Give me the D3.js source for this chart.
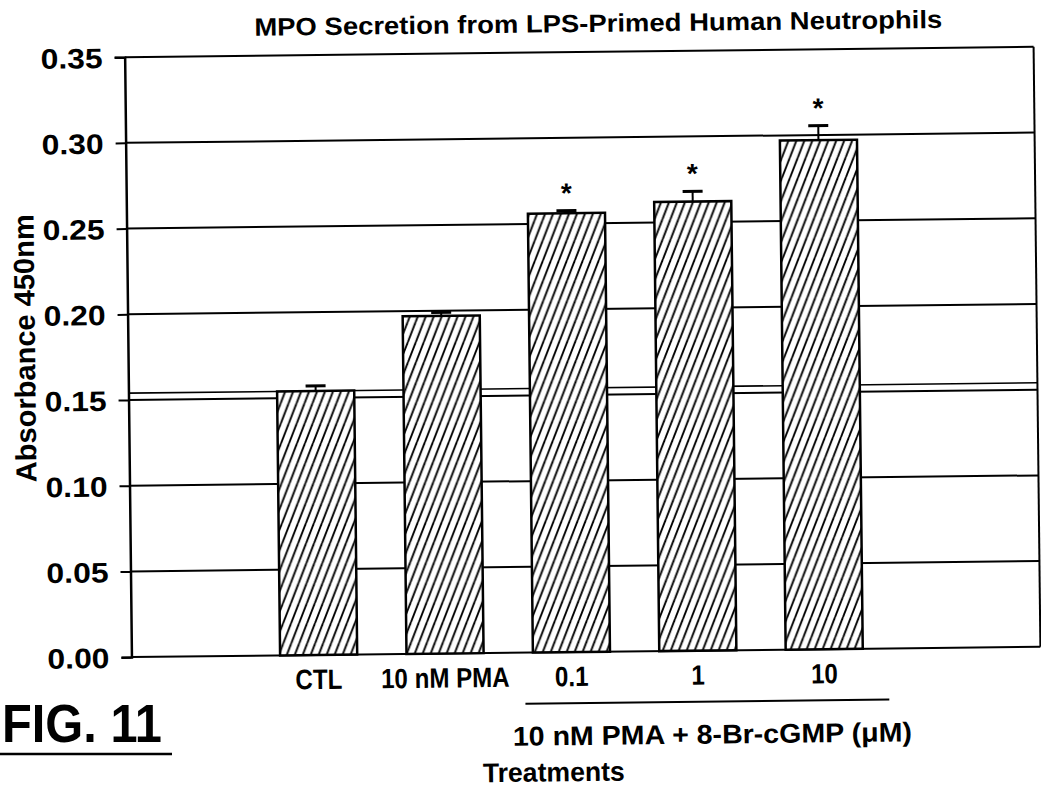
<!DOCTYPE html>
<html>
<head>
<meta charset="utf-8">
<script src="https://cdn.jsdelivr.net/npm/d3@7"></script>
<style>
  body { margin: 0; background: #fff; }
  svg { display: block; }
  text { font-family: "Liberation Sans", Arial, sans-serif; font-weight: bold; fill: #000; }
</style>
</head>
<body>
<svg id="chart" width="1041" height="792"></svg>
<script>
var categories = ["CTL", "10 nM PMA", "0.1", "1", "10"];
var means = [0.154, 0.197, 0.256, 0.262, 0.297];
var errors = [0.003, 0.002, 0.0015, 0.006, 0.0085];
var significant = [false, false, true, true, true];
var yTicks = [0, 0.05, 0.10, 0.15, 0.20, 0.25, 0.30, 0.35];

var title = "MPO Secretion from LPS-Primed Human Neutrophils";
var yLabel = "Absorbance 450nm";
var groupLabel = "10 nM PMA + 8-Br-cGMP (\u03bcM)";
var xLabel = "Treatments";
var figLabel = "FIG. 11";

var left = 128, right = 1037;
var labelSqueeze = 0.86; // the scan font is a bit condensed

var svg = d3.select('#chart');

// hatch fill for the bars
var defs = svg.append('defs');
var hatch = defs.append('pattern')
    .attr('id', 'hatch')
    .attr('patternUnits', 'userSpaceOnUse')
    .attr('width', 8)
    .attr('height', 20);
hatch.append('rect').attr('width', 8).attr('height', 20).attr('fill', '#fff');
[-8, 0, 8].forEach(function (dx) {
    hatch.append('line')
        .attr('x1', dx).attr('y1', 20)
        .attr('x2', dx + 8).attr('y2', 0)
        .attr('stroke', '#000')
        .attr('stroke-width', 1.9);
});

// the scanned figure is a bit skewed
var g = svg.append('g')
    .attr('transform', 'rotate(-0.65, 580, 350)');

var yScale = d3.scaleLinear()
    .domain([0, 0.35])
    .range([652, 52]);

var xScale = d3.scaleBand()
    .domain(categories)
    .range([252, 884])
    .paddingInner(0.39)
    .paddingOuter(0.195);

// grid lines
g.selectAll('.grid').data(yTicks).enter().append('line')
    .attr('class', 'grid')
    .attr('x1', left).attr('x2', right)
    .attr('y1', function (d) { return yScale(d); })
    .attr('y2', function (d) { return yScale(d); })
    .attr('stroke', '#000')
    .attr('stroke-width', 2);

// control level line
g.append('line')
    .attr('x1', left).attr('x2', right)
    .attr('y1', yScale(means[0]))
    .attr('y2', yScale(means[0]))
    .attr('stroke', '#000')
    .attr('stroke-width', 1.6);

// right border
g.append('line')
    .attr('x1', right).attr('x2', right)
    .attr('y1', yScale(0)).attr('y2', yScale(0.35))
    .attr('stroke', '#000')
    .attr('stroke-width', 2);

var yAxis = d3.axisLeft()
    .scale(yScale)
    .tickValues(yTicks)
    .tickFormat(d3.format('.2f'))
    .tickSize(10)
    .tickPadding(12);

var yAxisG = g.append('g')
    .attr('transform', 'translate(' + left + ',0)')
    .call(yAxis);
yAxisG.select('.domain').attr('stroke', '#000').attr('stroke-width', 2.5);
yAxisG.selectAll('.tick line').attr('stroke', '#000').attr('stroke-width', 2);
yAxisG.selectAll('.tick text')
    .attr('font-family', '"Liberation Sans", Arial, sans-serif')
    .attr('font-size', 28)
    .attr('font-weight', 'bold')
    .attr('textLength', 62)
    .attr('lengthAdjust', 'spacingAndGlyphs')
    .attr('dy', '0.36em')
    .attr('fill', '#000');

var data = categories.map(function (c, i) {
    return { cat: c, mean: means[i], err: errors[i], sig: significant[i] };
});

// bars
g.selectAll('.bar').data(data).enter().append('rect')
    .attr('class', 'bar')
    .attr('x', function (d) { return xScale(d.cat); })
    .attr('y', function (d) { return yScale(d.mean); })
    .attr('width', xScale.bandwidth())
    .attr('height', function (d) { return yScale(0) - yScale(d.mean); })
    .attr('fill', 'url(#hatch)')
    .attr('stroke', '#000')
    .attr('stroke-width', 2.5);

// error bars
var errG = g.selectAll('.err').data(data).enter().append('g').attr('class', 'err');
errG.append('line')
    .attr('x1', function (d) { return xScale(d.cat) + xScale.bandwidth() / 2; })
    .attr('x2', function (d) { return xScale(d.cat) + xScale.bandwidth() / 2; })
    .attr('y1', function (d) { return yScale(d.mean); })
    .attr('y2', function (d) { return yScale(d.mean + d.err); })
    .attr('stroke', '#000')
    .attr('stroke-width', 2);
errG.append('line')
    .attr('x1', function (d) { return xScale(d.cat) + xScale.bandwidth() / 2 - 10; })
    .attr('x2', function (d) { return xScale(d.cat) + xScale.bandwidth() / 2 + 10; })
    .attr('y1', function (d) { return yScale(d.mean + d.err); })
    .attr('y2', function (d) { return yScale(d.mean + d.err); })
    .attr('stroke', '#000')
    .attr('stroke-width', 3);

// significance marks
g.selectAll('.star').data(data.filter(function (d) { return d.sig; })).enter().append('text')
    .attr('class', 'star')
    .attr('x', function (d) { return xScale(d.cat) + xScale.bandwidth() / 2; })
    .attr('y', function (d) { return yScale(d.mean + d.err) - 8; })
    .attr('text-anchor', 'middle')
    .attr('font-size', 28)
    .text('*');

// category labels
var xLabels = g.selectAll('.xlab').data(categories).enter().append('text')
    .attr('class', 'xlab')
    .attr('x', function (d) { return xScale(d) + xScale.bandwidth() / 2; })
    .attr('y', 686)
    .attr('text-anchor', 'middle')
    .attr('font-size', 28)
    .text(function (d) { return d; });
xLabels.each(function () {
    var w = this.getComputedTextLength();
    d3.select(this)
        .attr('textLength', w * labelSqueeze)
        .attr('lengthAdjust', 'spacingAndGlyphs');
});

// group bracket
var groupCats = categories.slice(2);
g.append('line')
    .attr('x1', xScale(groupCats[0]) - 8)
    .attr('x2', xScale(groupCats[groupCats.length - 1]) + xScale.bandwidth() + 26)
    .attr('y1', 703).attr('y2', 703)
    .attr('stroke', '#000')
    .attr('stroke-width', 2);

g.append('text')
    .attr('x', 708)
    .attr('y', 745)
    .attr('text-anchor', 'middle')
    .attr('font-size', 27)
    .attr('textLength', 399)
    .attr('lengthAdjust', 'spacingAndGlyphs')
    .text(groupLabel);

g.append('text')
    .attr('x', 549)
    .attr('y', 781)
    .attr('text-anchor', 'middle')
    .attr('font-size', 27)
    .attr('textLength', 142)
    .attr('lengthAdjust', 'spacingAndGlyphs')
    .text(xLabel);

g.append('text')
    .attr('transform', 'translate(35,342) rotate(-90)')
    .attr('text-anchor', 'middle')
    .attr('font-size', 29)
    .attr('textLength', 268)
    .attr('lengthAdjust', 'spacingAndGlyphs')
    .text(yLabel);

g.append('text')
    .attr('x', 602)
    .attr('y', 32)
    .attr('text-anchor', 'middle')
    .attr('font-size', 25)
    .attr('textLength', 688)
    .attr('lengthAdjust', 'spacingAndGlyphs')
    .text(title);

// figure number
svg.append('text')
    .attr('x', 2)
    .attr('y', 742)
    .attr('font-size', 54)
    .attr('textLength', 160)
    .attr('lengthAdjust', 'spacingAndGlyphs')
    .text(figLabel);
svg.append('line')
    .attr('x1', 0).attr('x2', 172)
    .attr('y1', 754).attr('y2', 754)
    .attr('stroke', '#000')
    .attr('stroke-width', 2.5);
</script>
</body>
</html>
